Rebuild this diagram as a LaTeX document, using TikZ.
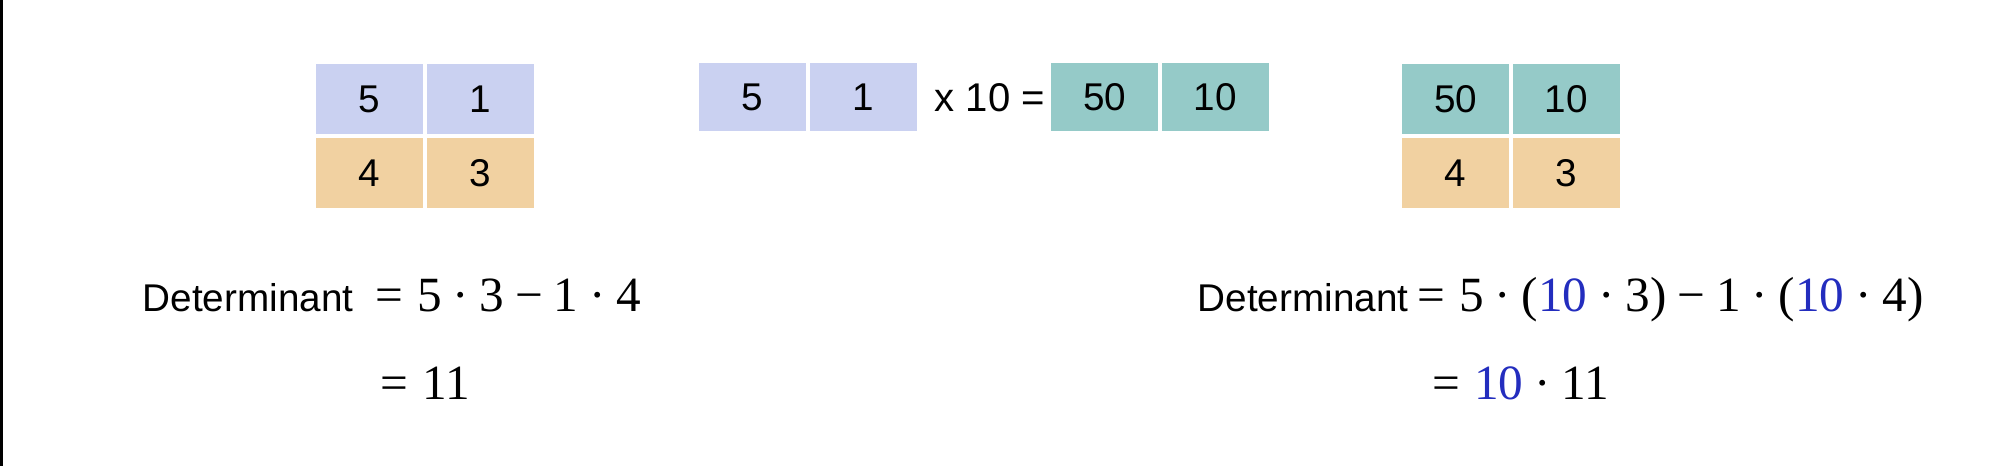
\documentclass[tikz,border=0pt]{standalone}
\usepackage{fontspec}
\setmainfont{Liberation Sans}
\newfontfamily\serifmath{Liberation Serif}
\usepackage{xcolor}
\usetikzlibrary{positioning}

\definecolor{rowblue}{RGB}{202,209,241}
\definecolor{rowtan}{RGB}{241,209,161}
\definecolor{rowteal}{RGB}{149,202,200}
\definecolor{scaleblue}{RGB}{35,45,190}
\newcommand{\eqsp}{\hspace{0.28em}}
\newcommand{\cdt}{\hspace{0.22em}·\hspace{0.22em}}
\newcommand{\mns}{\hspace{0.22em}−\hspace{0.22em}}
\newcommand{\ten}{\textcolor{scaleblue}{10}}

\begin{document}
\begin{tikzpicture}[x=0.01cm, y=-0.01cm,
  node distance=0pt,
  cell/.style={draw=white, line width=0.5pt, minimum width=1.09cm,
               minimum height=0.72cm, inner sep=0pt,
               font=\fontsize{11}{13}\selectfont},
  flat/.style={cell, minimum height=0.70cm},
  word/.style={anchor=base west, inner sep=0pt,
               font=\fontsize{11}{13}\selectfont},
  eqn/.style={anchor=base west, inner sep=0pt,
              font=\serifmath\fontsize{14}{16}\selectfont},
]
\useasboundingbox (0,0) rectangle (2000,466);
\fill[black] (0,0) rectangle (3,466);

% original matrix
\node[cell, fill=rowblue] (a11) at (369.5,99) {5};
\node[cell, fill=rowblue, right=of a11] (a12) {1};
\node[cell, fill=rowtan, below=of a11] (a21) {4};
\node[cell, fill=rowtan, right=of a21] (a22) {3};

% scaling the first row
\node[flat, fill=rowblue] (r1) at (752.5,97) {5};
\node[flat, fill=rowblue, right=of r1] (r2) {1};
\node[font=\fontsize{11.4}{13}\selectfont] (times) at (990,98) {x 10 =};
\node[flat, fill=rowteal] (s1) at (1104.5,97) {50};
\node[flat, fill=rowteal, right=of s1] (s2) {10};

% scaled matrix
\node[cell, fill=rowteal] (b11) at (1455.5,99) {50};
\node[cell, fill=rowteal, right=of b11] (b12) {10};
\node[cell, fill=rowtan, below=of b11] (b21) {4};
\node[cell, fill=rowtan, right=of b21] (b22) {3};

% determinants
\node[word] (detA) at (142,311) {Determinant};
\node[eqn] (eqA1) at (375,311) {=\eqsp 5\cdt 3\mns 1\cdt 4};
\node[eqn] (eqA2) at (380,399) {=\eqsp 11};

\node[word] (detB) at (1197,311) {Determinant};
\node[eqn] (eqB1) at (1417,311)
  {=\eqsp 5\cdt(\ten\cdt 3)\mns 1\cdt(\ten\cdt 4)};
\node[eqn] (eqB2) at (1432,399) {=\eqsp \ten\cdt 11};
\end{tikzpicture}
\end{document}
